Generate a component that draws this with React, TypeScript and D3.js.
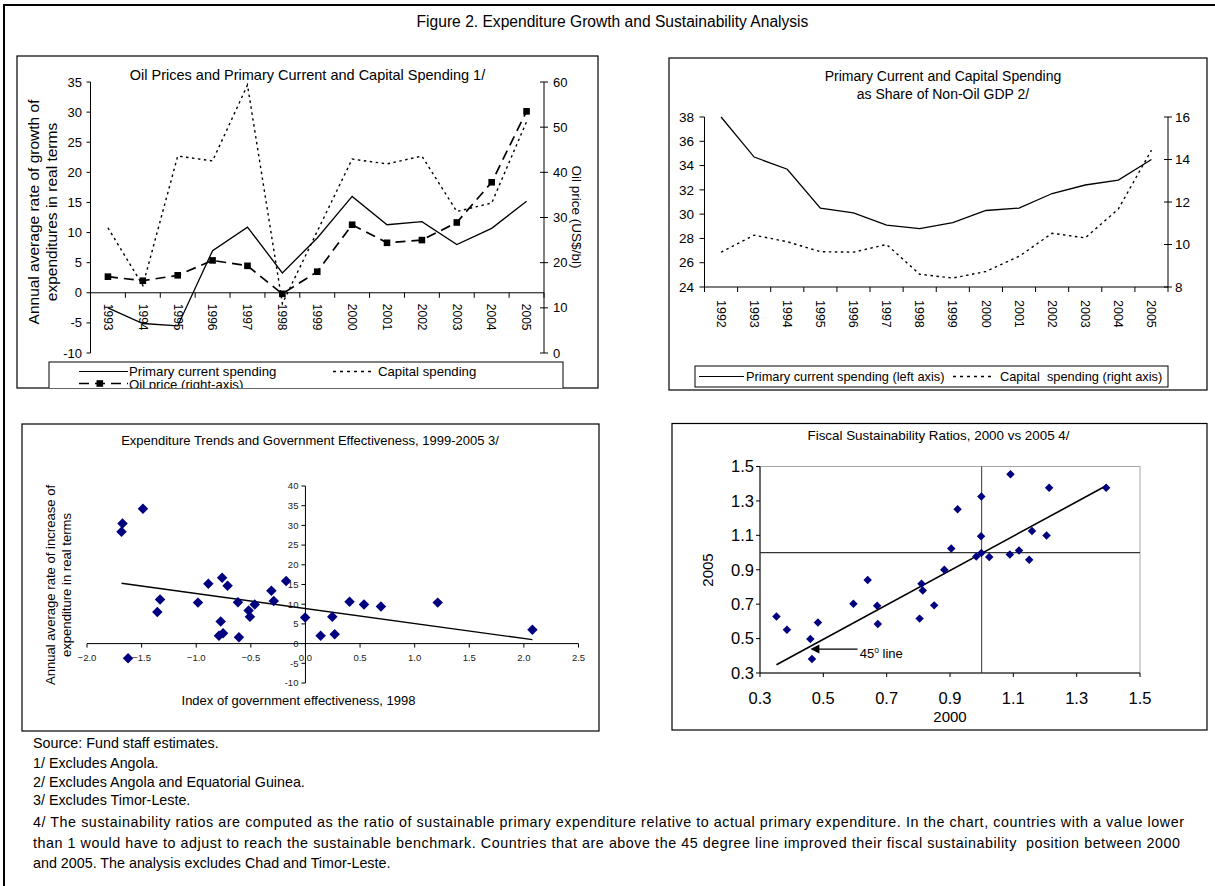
import React from 'react';
import * as d3 from 'd3';

// ---------- Panel 1 data ----------
const years1 = ['1993','1994','1995','1996','1997','1998','1999','2000','2001','2002','2003','2004','2005'];
const primaryCurrent1 = [-2.5,-5.1,-5.5,7.0,10.9,3.3,9.1,16.0,11.3,11.8,8.0,10.7,15.2];
const capital1 = [10.8,1.2,22.7,21.9,34.5,-1.8,10.2,22.2,21.4,22.7,13.5,14.9,28.4];
const oilPrice = [16.9,16.0,17.2,20.5,19.3,13.1,18.0,28.4,24.4,25.0,28.9,37.8,53.5];
const leftTicks1 = [-10,-5,0,5,10,15,20,25,30,35];
const rightTicks1 = [0,10,20,30,40,50,60];

// ---------- Panel 2 data ----------
const years2 = ['1992','1993','1994','1995','1996','1997','1998','1999','2000','2001','2002','2003','2004','2005'];
const primaryCurrent2 = [38.0,34.7,33.7,30.5,30.1,29.1,28.8,29.3,30.3,30.5,31.7,32.4,32.8,34.5];
const capital2 = [9.64,10.44,10.13,9.66,9.64,10.0,8.6,8.42,8.73,9.44,10.53,10.31,11.67,14.44];
const leftTicks2 = [24,26,28,30,32,34,36,38];
const rightTicks2 = [8,10,12,14,16];

// ---------- Panel 3 data ----------
const govEffX = [-1.675,-1.684,-1.488,-1.331,-1.356,-0.984,-0.889,-0.763,-0.713,-0.776,-0.792,-0.754,-0.618,-0.609,-0.520,-0.508,-0.464,-0.312,-0.290,-0.177,-0.003,0.139,0.246,0.268,0.404,0.536,0.691,1.211,2.078,-1.624];
const expGrowthY = [30.5,28.4,34.2,11.2,8.0,10.4,15.2,16.7,14.7,5.6,2.0,2.6,10.5,1.6,8.4,6.8,9.9,13.4,10.8,15.9,6.6,2.0,6.8,2.4,10.6,9.9,9.4,10.4,3.5,-3.7];
const trend3X = [-1.684, 2.078];
const trend3Y = [15.3, 1.0];
const xTicks3 = [-2.0,-1.5,-1.0,-0.5,0.0,0.5,1.0,1.5,2.0,2.5];
const yTicks3 = [-10,-5,0,5,10,15,20,25,30,35,40];

// ---------- Panel 4 data ----------
const ratio2000 = [0.352,0.385,0.459,0.483,0.464,0.595,0.640,0.670,0.672,0.804,0.810,0.814,0.850,0.882,0.904,0.924,0.983,0.999,0.998,0.999,1.024,1.091,1.089,1.118,1.150,1.159,1.205,1.213,1.393];
const ratio2005 = [0.629,0.552,0.497,0.594,0.381,0.703,0.840,0.691,0.585,0.616,0.819,0.780,0.693,0.900,1.024,1.252,0.977,1.326,1.094,0.997,0.974,1.455,0.989,1.012,0.958,1.125,1.099,1.376,1.376];
const line45X = [0.352, 1.393];
const line45Y = [0.348, 1.388];
const ticks4 = [0.3,0.5,0.7,0.9,1.1,1.3,1.5];

const footnotes = [
  'Source: Fund staff estimates.',
  '1/ Excludes Angola.',
  '2/ Excludes Angola and Equatorial Guinea.',
  '3/ Excludes Timor-Leste.',
];
const footnote4 = [
  '4/ The sustainability ratios are computed as the ratio of sustainable primary expenditure relative to actual primary expenditure. In the chart, countries with a value lower',
  'than 1 would have to adjust to reach the sustainable benchmark. Countries that are above the 45 degree line improved their fiscal sustainability  position between 2000',
  'and 2005. The analysis excludes Chad and Timor-Leste.',
];

const FONT = 'Liberation Sans, Arial, Helvetica, sans-serif';
const NAVY = '#000080';

function Panel1() {
  const L = 90.5, R = 544;
  const x = d3.scaleBand<string>().domain(years1).range([L, R]);
  const cx = (y: string) => (x(y) as number) + x.bandwidth() / 2;
  const yL = d3.scaleLinear().domain([-10, 35]).range([353, 82]);
  const yR = d3.scaleLinear().domain([0, 60]).range([353, 82]);
  const lineL = d3.line<number>().x((_, i) => cx(years1[i])).y(v => yL(v));
  const lineR = d3.line<number>().x((_, i) => cx(years1[i])).y(v => yR(v));
  const bounds = [...years1.map(y => x(y) as number), R];
  return (
    <g>
      <defs>
        <clipPath id="p1clip"><rect x={17} y={56} width={581} height={332} /></clipPath>
      </defs>
      <rect x={17} y={56} width={581} height={332} fill="none" stroke="#000" strokeWidth={1.2} />
      <text x={307.5} y={80} textAnchor="middle" fontSize={14.5}>Oil Prices and Primary Current and Capital Spending 1/</text>
      <line x1={L} x2={L} y1={yL(-10)} y2={yL(35)} stroke="#000" />
      {leftTicks1.map(t => (
        <g key={t}>
          <line x1={L - 4} x2={L} y1={yL(t)} y2={yL(t)} stroke="#000" />
          <text x={82} y={yL(t)} dy="0.35em" textAnchor="end" fontSize={13}>{t}</text>
        </g>
      ))}
      <line x1={R} x2={R} y1={yR(0)} y2={yR(60)} stroke="#000" />
      {rightTicks1.map(t => (
        <g key={t}>
          <line x1={R - 4} x2={R + 4} y1={yR(t)} y2={yR(t)} stroke="#000" />
          <text x={R + 9} y={yR(t)} dy="0.35em" fontSize={13}>{t}</text>
        </g>
      ))}
      <line x1={L} x2={R} y1={yL(0)} y2={yL(0)} stroke="#000" />
      {bounds.map((b, i) => (
        <line key={i} x1={b} x2={b} y1={yL(0)} y2={yL(0) + 5} stroke="#000" />
      ))}
      {years1.map(y => (
        <text key={y} transform={`translate(${cx(y)},${yL(0) + 11}) rotate(90)`} dy="0.35em" fontSize={12}>{y}</text>
      ))}
      <text transform={`translate(38.5,212) rotate(-90)`} textAnchor="middle" fontSize={15.5}>Annual average rate of growth of</text>
      <text transform={`translate(57,212) rotate(-90)`} textAnchor="middle" fontSize={15.5}>expenditures in real terms</text>
      <text transform={`translate(572,217) rotate(90)`} textAnchor="middle" fontSize={13.5}>Oil price (US$/bl)</text>
      <path d={lineL(capital1) as string} fill="none" stroke="#000" strokeWidth={1.4} strokeDasharray="2.5,3.5" />
      <path d={lineL(primaryCurrent1) as string} fill="none" stroke="#000" strokeWidth={1.3} />
      <path d={lineR(oilPrice) as string} fill="none" stroke="#000" strokeWidth={1.7} strokeDasharray="10,6" />
      {oilPrice.map((v, i) => (
        <rect key={i} x={cx(years1[i]) - 3.3} y={yR(v) - 3.3} width={6.6} height={6.6} fill="#000" />
      ))}
      <g clipPath="url(#p1clip)">
        <rect x={49} y={362} width={514} height={34} fill="#fff" stroke="#000" />
        <line x1={79} x2={128} y1={371.5} y2={371.5} stroke="#000" strokeWidth={1.2} />
        <text x={129} y={376} fontSize={13.2}>Primary current spending</text>
        <line x1={333} x2={374} y1={371.5} y2={371.5} stroke="#000" strokeWidth={1.4} strokeDasharray="3,4" />
        <text x={378} y={376} fontSize={13.2}>Capital spending</text>
        <line x1={79} x2={128} y1={383.5} y2={383.5} stroke="#000" strokeWidth={1.7} strokeDasharray="10,6" />
        <rect x={96.5} y={380.2} width={6.6} height={6.6} fill="#000" />
        <text x={129} y={389} fontSize={13.2}>Oil price (right-axis)</text>
      </g>
    </g>
  );
}

function Panel2() {
  const L = 704.5, R = 1168;
  const x = d3.scaleBand<string>().domain(years2).range([L, R]);
  const cx = (y: string) => (x(y) as number) + x.bandwidth() / 2;
  const yL = d3.scaleLinear().domain([24, 38]).range([287, 117]);
  const yR = d3.scaleLinear().domain([8, 16]).range([287, 117]);
  const lineL = d3.line<number>().x((_, i) => cx(years2[i])).y(v => yL(v));
  const lineR = d3.line<number>().x((_, i) => cx(years2[i])).y(v => yR(v));
  const bounds = [...years2.map(y => x(y) as number), R];
  return (
    <g>
      <rect x={669} y={58} width={538} height={332} fill="none" stroke="#000" strokeWidth={1.2} />
      <text x={943} y={80.5} textAnchor="middle" fontSize={14}>Primary Current and Capital Spending</text>
      <text x={943} y={98.5} textAnchor="middle" fontSize={14}>as Share of Non-Oil GDP 2/</text>
      <line x1={L} x2={L} y1={287} y2={117} stroke="#000" />
      {leftTicks2.map(t => (
        <g key={t}>
          <line x1={L - 5} x2={L} y1={yL(t)} y2={yL(t)} stroke="#000" />
          <text x={694} y={yL(t)} dy="0.35em" textAnchor="end" fontSize={13.5}>{t}</text>
        </g>
      ))}
      <line x1={R} x2={R} y1={287} y2={117} stroke="#000" />
      {rightTicks2.map(t => (
        <g key={t}>
          <line x1={R - 4} x2={R + 4} y1={yR(t)} y2={yR(t)} stroke="#000" />
          <text x={R + 7} y={yR(t)} dy="0.35em" fontSize={13.5}>{t}</text>
        </g>
      ))}
      <line x1={L} x2={R} y1={287} y2={287} stroke="#000" />
      {bounds.map((b, i) => (
        <line key={i} x1={b} x2={b} y1={287} y2={292} stroke="#000" />
      ))}
      {years2.map(y => (
        <text key={y} transform={`translate(${cx(y)},${300}) rotate(90)`} dy="0.35em" fontSize={12.5}>{y}</text>
      ))}
      <path d={lineR(capital2) as string} fill="none" stroke="#000" strokeWidth={1.4} strokeDasharray="2.5,3.5" />
      <path d={lineL(primaryCurrent2) as string} fill="none" stroke="#000" strokeWidth={1.3} />
      <rect x={695} y={366} width={473} height={21} fill="#fff" stroke="#000" />
      <line x1={699} x2={744} y1={376.5} y2={376.5} stroke="#000" strokeWidth={1.2} />
      <text x={746} y={381} fontSize={12.8}>Primary current spending (left axis)</text>
      <line x1={953} x2={993} y1={376.5} y2={376.5} stroke="#000" strokeWidth={1.4} strokeDasharray="3,4" />
      <text x={1000} y={381} fontSize={12.8} style={{ whiteSpace: 'pre' }}>{'Capital  spending (right axis)'}</text>
    </g>
  );
}

function Panel3() {
  const x = d3.scaleLinear().domain([-2, 2.5]).range([87, 578.5]);
  const y = d3.scaleLinear().domain([-10, 40]).range([683, 486]);
  const diamond = d3.symbol().type(d3.symbolSquare).size(55)();
  const trend = d3.line<number>().x(v => x(v)).y((_, i) => y(trend3Y[i]));
  return (
    <g>
      <rect x={22} y={424} width={577} height={307} fill="none" stroke="#000" strokeWidth={1.2} />
      <text x={310} y={444.5} textAnchor="middle" fontSize={13}>Expenditure Trends and Government Effectiveness, 1999-2005 3/</text>
      <line x1={x(-2)} x2={x(2.5)} y1={y(0)} y2={y(0)} stroke="#000" />
      {xTicks3.map(t => (
        <g key={t}>
          <line x1={x(t)} x2={x(t)} y1={y(0)} y2={y(0) + 4} stroke="#000" />
          <text x={x(t)} y={y(0) + 17.5} textAnchor="middle" fontSize={9.5} fill="#222">{d3.format('.1f')(t)}</text>
        </g>
      ))}
      <line x1={x(0)} x2={x(0)} y1={y(-10)} y2={y(40)} stroke="#000" />
      {yTicks3.map(t => (
        <g key={t}>
          <line x1={x(0) - 4} x2={x(0)} y1={y(t)} y2={y(t)} stroke="#000" />
          <text x={x(0) - 7} y={y(t)} dy="0.35em" textAnchor="end" fontSize={9.5} fill="#222">{t}</text>
        </g>
      ))}
      <path d={trend(trend3X) as string} fill="none" stroke="#000" strokeWidth={1.4} />
      {govEffX.map((v, i) => (
        <path key={i} d={diamond as string} transform={`translate(${x(v)},${y(expGrowthY[i])}) rotate(45)`} fill={NAVY} />
      ))}
      <text transform="translate(55,585) rotate(-90)" textAnchor="middle" fontSize={13.1}>Annual average rate of increase of</text>
      <text transform="translate(70.5,585) rotate(-90)" textAnchor="middle" fontSize={13.1}>expenditure in real terms</text>
      <text x={298.5} y={705} textAnchor="middle" fontSize={13}>Index of government effectiveness, 1998</text>
    </g>
  );
}

function Panel4() {
  const x = d3.scaleLinear().domain([0.3, 1.5]).range([760, 1140]);
  const y = d3.scaleLinear().domain([0.3, 1.5]).range([673, 466.5]);
  const diamond = d3.symbol().type(d3.symbolSquare).size(36)();
  const diag = d3.line<number>().x(v => x(v)).y((_, i) => y(line45Y[i]));
  const ax0 = 0.608, ax1 = 0.459, ay = 0.439;
  return (
    <g>
      <rect x={672} y={423.5} width={535} height={306.5} fill="none" stroke="#000" strokeWidth={1.2} />
      <text x={938.5} y={440} textAnchor="middle" fontSize={13.4}>Fiscal Sustainability Ratios, 2000 vs 2005 4/</text>
      <rect x={x(0.3)} y={y(1.5)} width={x(1.5) - x(0.3)} height={y(0.3) - y(1.5)} fill="none" stroke="#a6a6a6" />
      <line x1={x(0.3)} x2={x(0.3)} y1={y(0.3)} y2={y(1.5)} stroke="#000" />
      <line x1={x(0.3)} x2={x(1.5)} y1={y(0.3)} y2={y(0.3)} stroke="#000" />
      {ticks4.map(t => (
        <g key={t}>
          <line x1={x(0.3) - 4} x2={x(0.3)} y1={y(t)} y2={y(t)} stroke="#000" />
          <text x={x(0.3) - 6} y={y(t)} dy="0.35em" textAnchor="end" fontSize={16.5}>{d3.format('.1f')(t)}</text>
          <line x1={x(t)} x2={x(t)} y1={y(0.3)} y2={y(0.3) + 4} stroke="#000" />
          <text x={x(t)} y={y(0.3) + 31} textAnchor="middle" fontSize={16.5}>{d3.format('.1f')(t)}</text>
        </g>
      ))}
      <line x1={x(1.0)} x2={x(1.0)} y1={y(0.3)} y2={y(1.5)} stroke="#333" />
      <line x1={x(0.3)} x2={x(1.5)} y1={y(1.0)} y2={y(1.0)} stroke="#333" strokeWidth={1.2} />
      <path d={diag(line45X) as string} fill="none" stroke="#000" strokeWidth={1.6} />
      {ratio2000.map((v, i) => (
        <path key={i} d={diamond as string} transform={`translate(${x(v)},${y(ratio2005[i])}) rotate(45)`} fill={NAVY} />
      ))}
      <line x1={x(ax0)} x2={x(ax1) + 6} y1={y(ay)} y2={y(ay)} stroke="#000" strokeWidth={1.2} />
      <path d={`M${x(ax1)},${y(ay)}l9,-4.5l0,9z`} fill="#000" />
      <text x={x(0.615)} y={y(0.387)} fontSize={13}>45<tspan dy={-5} fontSize={8.5}>o</tspan><tspan dy={5}> line</tspan></text>
      <text x={950} y={721.5} textAnchor="middle" fontSize={15}>2000</text>
      <text transform="translate(713,570) rotate(-90)" textAnchor="middle" fontSize={15}>2005</text>
    </g>
  );
}

export default function App() {
  return (
    <svg width={1215} height={886} style={{ position: 'absolute', left: 0, top: 0, background: '#fff' }} fontFamily={FONT}>
      <rect x={0} y={0} width={1215} height={886} fill="#fff" />
      <path d="M4,886 L4,5 L1215,5" fill="none" stroke="#000" strokeWidth={2} />
      <text x={612.5} y={27} textAnchor="middle" fontSize={15.6}>Figure 2. Expenditure Growth and Sustainability Analysis</text>
      <Panel1 />
      <Panel2 />
      <Panel3 />
      <Panel4 />
      {footnotes.map((f, i) => (
        <text key={i} x={33} y={[748, 768, 787, 805][i]} fontSize={14.3}>{f}</text>
      ))}
      {footnote4.map((f, i) => (
        <text key={i} x={33} y={827 + i * 20.5} fontSize={14.3} style={{ whiteSpace: 'pre' }}
          {...(i < 2 ? { textLength: i === 0 ? 1151 : 1147, lengthAdjust: 'spacing' } : {})}>{f}</text>
      ))}
    </svg>
  );
}
